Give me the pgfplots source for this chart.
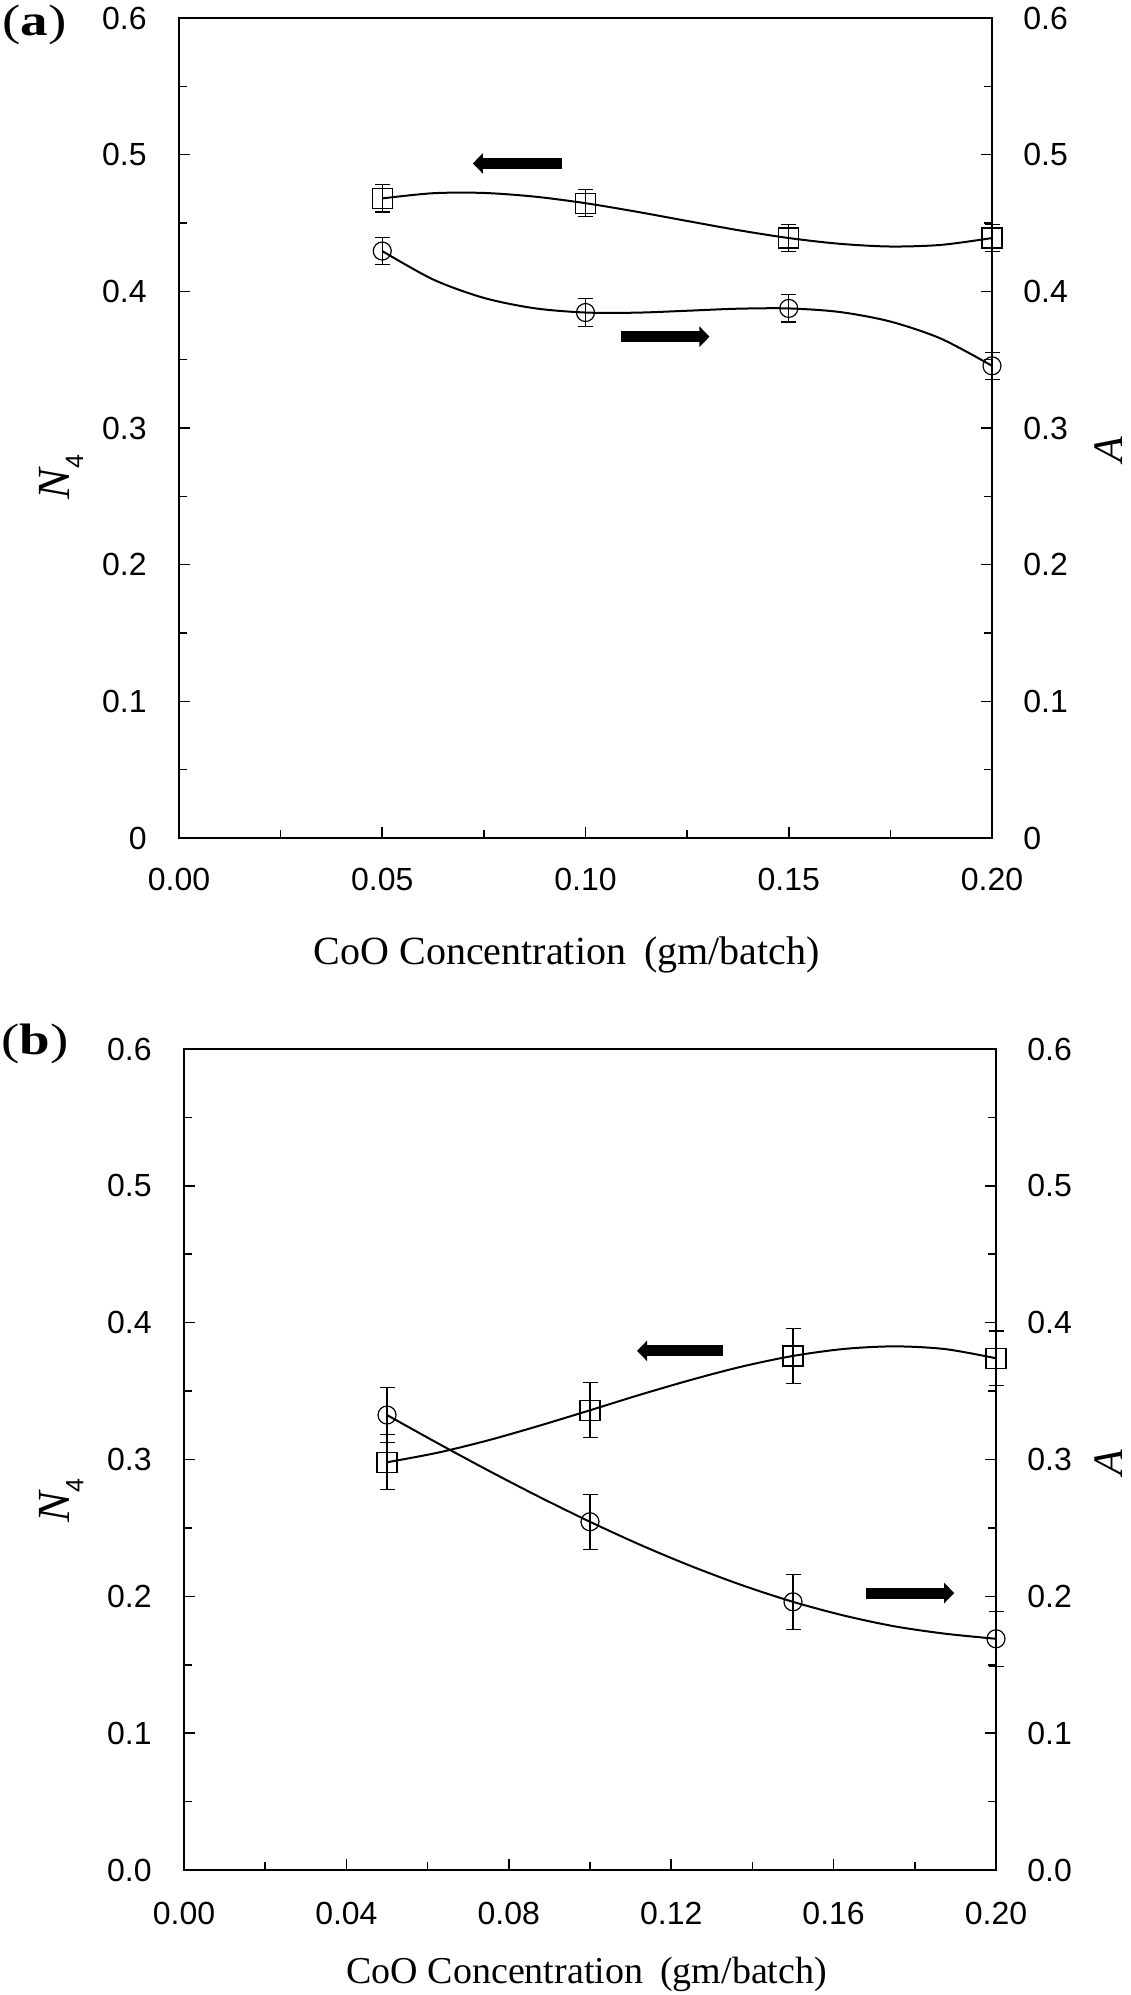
\documentclass[border=0pt]{standalone}
\usepackage{pgfplots}
\pgfplotsset{compat=1.18}
\usepackage{fontspec}
\setmainfont{Liberation Serif}
\setsansfont{Liberation Sans}
\usetikzlibrary{arrows.meta}

\tikzset{arr/.style={line width=5.5pt, -{Triangle[width=10pt 0, length=5pt 0]}}}
\newcommand{\Nfour}{\fontsize{23}{23}\selectfont\itshape N\raisebox{-7pt}{\fontsize{12.5}{12.5}\selectfont\upshape\sffamily 4}}
\pgfplotsset{
  base/.style={
    scale only axis, clip=false,
    axis line style={line width=1pt},
    tick style={line width=0.8pt, black},
    tick align=inside,
    major tick length=5.5pt, minor tick length=4pt,
    xtick pos=bottom,
    ticklabel style={font=\fontsize{16}{16}\selectfont\sffamily, inner sep=0pt},
    /pgf/number format/assume math mode=true,
    ymin=0, ymax=0.6, xmin=0, xmax=0.2,
    ytick={0,0.1,0.2,0.3,0.4,0.5,0.6}, minor y tick num=1,
  },
  sq/.style={black, only marks, mark=square, mark size=5pt,
    mark options={line width=0.6pt, fill=white},
    error bars/.cd, y dir=both, y explicit,
    error bar style={line width=0.6pt},
    error mark options={rotate=90, mark size=3.75pt, line width=0.6pt}},
  ci/.style={black, only marks, mark=o, mark size=4.5pt,
    mark options={line width=0.6pt, fill=white},
    error bars/.cd, y dir=both, y explicit,
    error bar style={line width=0.6pt},
    error mark options={rotate=90, mark size=3.75pt, line width=0.6pt}},
  fitc/.style={black, line width=1pt, smooth, no marks},
}

\begin{document}
\begin{tikzpicture}
\useasboundingbox (0,0) rectangle (565pt,-997.5pt);

% ---------------- Panel (a) ----------------
\begin{axis}[base, at={(89.5pt,-419pt)}, anchor=south west,
  width=406.5pt, height=410pt,
  ytick pos=left,
  xtick={0,0.05,0.1,0.15,0.2}, minor x tick num=1,
  x tick label style={/pgf/number format/fixed,/pgf/number format/fixed zerofill,/pgf/number format/precision=2, anchor=north, yshift=-15pt},
  y tick label style={anchor=east, xshift=-16pt},
]
\addplot+[sq] coordinates {(0.05,0.468) +- (0,0.01) (0.10,0.4645) +- (0,0.01) (0.15,0.439) +- (0,0.01) (0.20,0.439) +- (0,0.01)};
\addplot+[ci] coordinates {(0.05,0.4295) +- (0,0.01) (0.10,0.3845) +- (0,0.01) (0.15,0.3875) +- (0,0.01) (0.20,0.3455) +- (0,0.01)};
\addplot[fitc] coordinates {(0.05,0.468) (0.0625,0.4718) (0.075,0.4720) (0.0875,0.4693) (0.10,0.4645) (0.1125,0.4583) (0.125,0.4515) (0.1375,0.4448) (0.15,0.439) (0.1625,0.4348) (0.175,0.4328) (0.1875,0.4340) (0.20,0.439)};
\addplot[fitc] coordinates {(0.05,0.4295) (0.0625,0.4087) (0.075,0.3952) (0.0875,0.3876) (0.10,0.3845) (0.1125,0.3844) (0.125,0.3858) (0.1375,0.3873) (0.15,0.3875) (0.1625,0.3849) (0.175,0.3779) (0.1875,0.3653) (0.20,0.3455)};
\draw[arr] (axis cs:0.0942,0.4936) -- (axis cs:0.0723,0.4936);
\draw[arr] (axis cs:0.1087,0.3668) -- (axis cs:0.1305,0.3668);
\node[anchor=center] at (axis description cs:0.477,-0.1427) {\fontsize{20}{20}\selectfont CoO Concentration\hspace{0.45em}(gm/batch)};
\node[rotate=90, anchor=center, inner sep=0pt] at (axis description cs:-0.145,0.44) {\Nfour};
\node[rotate=90, anchor=center, inner sep=0pt] at (axis description cs:1.143,0.474) {\fontsize{21}{21}\selectfont\itshape A};
\node[anchor=center] at (axis description cs:-0.178,0.991) {\scalebox{1.25}[1]{\fontsize{22}{22}\selectfont (\textbf{a})}};
\end{axis}
\begin{axis}[base, at={(89.5pt,-419pt)}, anchor=south west,
  width=406.5pt, height=410pt,
  axis y line*=right, axis x line=none,
  y tick label style={anchor=west, xshift=15.5pt},
]
\end{axis}

% ---------------- Panel (b) ----------------
\begin{axis}[base, at={(92pt,-935pt)}, anchor=south west,
  width=406pt, height=410.5pt,
  ytick pos=left,
  xtick={0,0.04,0.08,0.12,0.16,0.2}, minor x tick num=1,
  x tick label style={/pgf/number format/fixed,/pgf/number format/fixed zerofill,/pgf/number format/precision=2, anchor=north, yshift=-16pt},
  y tick label style={/pgf/number format/fixed,/pgf/number format/fixed zerofill,/pgf/number format/precision=1, anchor=east, xshift=-16pt},
]
\addplot+[sq] coordinates {(0.05,0.298) +- (0,0.02) (0.10,0.336) +- (0,0.02) (0.15,0.3757) +- (0,0.02) (0.20,0.374) +- (0,0.02)};
\addplot+[ci] coordinates {(0.05,0.3325) +- (0,0.02) (0.10,0.2545) +- (0,0.02) (0.15,0.196) +- (0,0.02) (0.20,0.169) +- (0,0.02)};
\addplot[fitc] coordinates {(0.05,0.298) (0.0625,0.3050) (0.075,0.3141) (0.0875,0.3247) (0.10,0.336) (0.1125,0.3475) (0.125,0.3583) (0.1375,0.3680) (0.15,0.3757) (0.1625,0.3808) (0.175,0.3827) (0.1875,0.3807) (0.20,0.374)};
\addplot[fitc] coordinates {(0.05,0.3325) (0.0625,0.3119) (0.075,0.2919) (0.0875,0.2727) (0.10,0.2545) (0.1125,0.2375) (0.125,0.2220) (0.1375,0.2081) (0.15,0.196) (0.1625,0.1860) (0.175,0.1781) (0.1875,0.1727) (0.20,0.169)};
\draw[arr] (axis cs:0.1328,0.3794) -- (axis cs:0.1116,0.3794);
\draw[arr] (axis cs:0.168,0.2024) -- (axis cs:0.1897,0.2024);
\node[anchor=center] at (axis description cs:0.496,-0.1267) {\fontsize{19}{19}\selectfont CoO Concentration\hspace{0.45em}(gm/batch)};
\node[rotate=90, anchor=center, inner sep=0pt] at (axis description cs:-0.151,0.45) {\Nfour};
\node[rotate=90, anchor=center, inner sep=0pt] at (axis description cs:1.139,0.496) {\fontsize{21}{21}\selectfont\itshape A};
\node[anchor=center] at (axis description cs:-0.1835,1.006) {\scalebox{1.25}[1]{\fontsize{22}{22}\selectfont (\textbf{b})}};
\end{axis}
\begin{axis}[base, at={(92pt,-935pt)}, anchor=south west,
  width=406pt, height=410.5pt,
  axis y line*=right, axis x line=none,
  y tick label style={/pgf/number format/fixed,/pgf/number format/fixed zerofill,/pgf/number format/precision=1, anchor=west, xshift=15.5pt},
]
\end{axis}
\end{tikzpicture}
\end{document}
